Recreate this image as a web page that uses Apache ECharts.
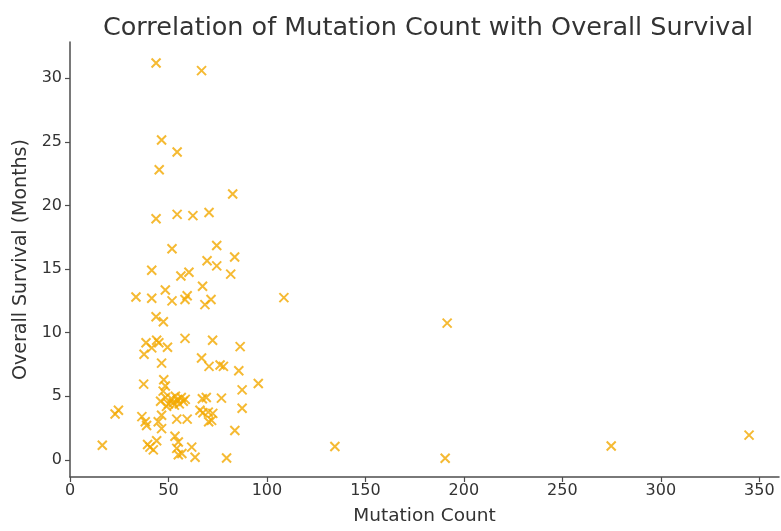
<!DOCTYPE html>
<html>
<head>
<meta charset="utf-8">
<script src="https://cdn.jsdelivr.net/npm/echarts@6/dist/echarts.min.js"></script>
<style>
html,body{margin:0;padding:0;background:#fff;}
#chart{width:781px;height:531px;}
</style>
</head>
<body>
<div id="chart"></div>
<script>
const titleText = "Correlation of Mutation Count with Overall Survival";
const xName = "Mutation Count";
const yName = "Overall Survival (Months)";
const xTicks = [0, 50, 100, 150, 200, 250, 300, 350];
const yTicks = [0, 5, 10, 15, 20, 25, 30];

const mutationCount = [
  43.7, 66.8, 46.5, 54.4, 45.3, 82.6, 43.7, 54.4, 62.4, 70.6,
  51.8, 74.5, 83.6, 41.5, 69.6, 74.5, 56.3, 60.4, 81.6, 67.3,
  48.4, 33.5, 41.5, 51.8, 58.4, 59.5, 68.5, 71.6, 108.6, 43.7,
  47.4, 191.5,
  38.6, 44.0, 45.1, 58.4, 72.4, 86.4, 37.6, 41.5, 49.5, 46.5,
  66.8, 70.6, 76.2, 77.9, 85.7, 37.4, 47.6, 48.4, 95.6, 87.4, 47.3,
  46.0, 48.5, 50.0, 51.5, 52.5, 53.5, 54.5, 55.5, 56.5, 57.5,
  58.5, 49.0, 53.0, 67.2, 69.2, 76.9, 87.4,
  22.9, 24.6, 36.5, 38.2, 38.9, 44.8, 46.5, 46.5, 54.2, 59.5,
  66.0, 67.5, 70.2, 72.5, 71.9, 70.4, 83.7,
  16.4, 39.4, 40.6, 42.3, 44.0, 53.3, 55.0, 54.2, 55.0, 56.8,
  61.8, 63.5, 79.5, 134.5, 190.5, 274.8, 344.8
];
const survivalMonths = [
  31.2, 30.6, 25.15, 24.2, 22.8, 20.9, 18.95, 19.3, 19.2, 19.45,
  16.6, 16.85, 15.95, 14.9, 15.65, 15.25, 14.45, 14.75, 14.6, 13.65,
  13.35, 12.8, 12.7, 12.5, 12.6, 12.9, 12.2, 12.6, 12.75, 11.25,
  10.85, 10.75,
  9.2, 9.4, 9.2, 9.55, 9.4, 8.9, 8.3, 8.8, 8.85, 7.6,
  8.0, 7.35, 7.45, 7.35, 7.0, 5.95, 6.3, 5.8, 6.0, 5.5, 5.4,
  4.6, 4.9, 4.4, 4.8, 4.5, 5.0, 4.7, 4.4, 4.9, 4.6,
  4.75, 4.2, 4.3, 4.8, 4.9, 4.85, 4.05,
  3.6, 3.9, 3.4, 3.0, 2.7, 3.0, 3.5, 2.45, 3.2, 3.2,
  3.9, 3.7, 3.75, 3.65, 3.1, 3.0, 2.3,
  1.15, 1.2, 1.0, 0.78, 1.5, 1.85, 1.4, 0.9, 0.4, 0.5,
  1.0, 0.2, 0.15, 1.05, 0.13, 1.09, 1.94
];

const points = mutationCount.map((x, i) => [x, survivalMonths[i]]);

const FONT = "DejaVu Sans";
const TXT = "#333333";
const AX = "#4d4d4d";

const chart = echarts.init(document.getElementById('chart'), null, {renderer: 'canvas'});
chart.setOption({
  backgroundColor: '#ffffff',
  animation: false,
  title: {
    text: titleText,
    left: 423, top: 10, textAlign: 'center',
    textStyle: {fontFamily: FONT, fontSize: 25.5, fontWeight: 'normal', color: TXT}
  },
  grid: {left: 70, right: 2, top: 42, bottom: 49, containLabel: false},
  xAxis: {
    type: 'value', min: 0, max: 360,
    name: xName, nameLocation: 'middle', nameGap: 30,
    nameTextStyle: {fontFamily: FONT, fontSize: 18.5, color: TXT},
    axisLine: {show: true, onZero: false, lineStyle: {color: AX, width: 1.5}},
    axisTick: {show: true, length: 5, lineStyle: {color: AX, width: 1.2}, customValues: xTicks},
    axisLabel: {fontFamily: FONT, fontSize: 16, color: TXT, margin: 6, customValues: xTicks},
    splitLine: {show: false}
  },
  yAxis: {
    type: 'value', min: -1.35, max: 32.85,
    name: yName, nameLocation: 'middle', nameGap: 38, nameRotate: 90,
    nameTextStyle: {fontFamily: FONT, fontSize: 19, color: TXT},
    axisLine: {show: true, onZero: false, lineStyle: {color: AX, width: 1.5}},
    axisTick: {show: true, length: 5, lineStyle: {color: AX, width: 1.2}, customValues: yTicks},
    axisLabel: {fontFamily: FONT, fontSize: 16, color: TXT, margin: 8, customValues: yTicks},
    splitLine: {show: false}
  },
  series: [{
    type: 'scatter',
    data: points,
    symbol: 'path://M0,0L10,10M10,0L0,10',
    symbolSize: 9,
    itemStyle: {color: 'rgba(0,0,0,0)', borderColor: '#F2A900', borderWidth: 2, opacity: 0.8}
  }]
});
</script>
</body>
</html>
